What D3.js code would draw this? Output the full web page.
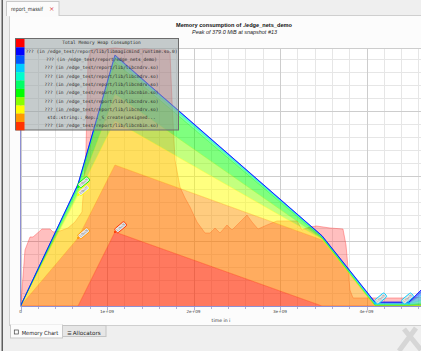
<!DOCTYPE html>
<html><head><meta charset="utf-8">
<script src="https://cdn.jsdelivr.net/npm/d3@7"></script>
<style>
html,body{margin:0;padding:0;background:#efefef;overflow:hidden}
svg{display:block}
</style></head><body>
<svg id="c" width="421" height="351"></svg>
<script>
// ---------- data ----------
const chartTitle = "Memory consumption of ./edge_nets_demo";
const chartSubtitle = "Peak of 379.0 MiB at snapshot #13";
const xAxisTitle = "time in i";
const xTickValues = [0, 1, 2, 3, 4];            // in 1e9 instructions
const xTickLabels = ["0", "1e+09", "2e+09", "3e+09", "4e+09"];
const peakMiB = 379.0;
const MiB = 1048576;

// total heap consumption (MiB) at every snapshot, time in 1e9 instructions
const totalTimes = [0,0.017,0.052,0.110,0.145,0.249,0.341,0.376,0.457,0.549,0.630,0.711,0.757,0.780,0.815,0.884,0.977,1.092,1.208,1.324,1.439,1.555,1.671,1.728,1.751,1.786,1.844,1.902,1.960,2.040,2.133,2.191,2.249,2.306,2.387,2.445,2.538,2.618,2.676,2.746,2.850,2.965,3.197,3.254,3.347,3.422,3.578,3.728,3.763,3.809,3.844,4.156,4.503,4.850];
const totalMiB   = [0,23.5,82.3,101.4,101.4,113.1,113.1,108.7,110.2,114.6,123.4,138.1,229.2,361.4,376.1,377.6,377.6,379.0,377.6,376.1,377.6,376.1,376.1,373.2,302.6,214.5,174.8,158.7,145.4,123.4,107.2,107.2,114.6,107.2,119.0,111.6,123.4,133.7,123.4,113.1,119.0,124.9,124.9,111.6,116.1,117.5,114.6,113.1,89.6,23.5,11.8,11.8,11.8,14.7];

// detailed snapshots
const detailTimes = [0, 0.665, 1.092, 3.486, 4.098, 4.491, 4.850];
const totalName = "Total Memory Heap Consumption";
const totalColor = "#ff0000";
const seriesNames = [
  "??? (in /edge_test/report/lib/libmagicmind_runtime.so.0)",
  "??? (in /edge_test/report/edge_nets_demo)",
  "??? (in /edge_test/report/lib/libcndrv.so)",
  "??? (in /edge_test/report/lib/libcndrv.so)",
  "??? (in /edge_test/report/lib/libcndrv.so)",
  "??? (in /edge_test/report/lib/libcnbin.so)",
  "??? (in /edge_test/report/lib/libcndrv.so)",
  "??? (in /edge_test/report/lib/libcndrv.so)",
  "std::string::_Rep::_S_create(unsigned...",
  "??? (in /edge_test/report/lib/libcnbin.so)"
];
const seriesColors = ["#0000ff","#0055ff","#00ccff","#00ffcc","#00ff66","#00ff00","#88ff00","#ffff00","#ff9900","#ff3300"];
// MiB per series at each detailed snapshot (legend order: top of stack first)
const s0 = [0,0.7,0.7,0.4,0.9,0.9,5.9];
const s1 = [0,0.7,0.7,0.4,0.9,0.9,11.8];
const s2 = [0,0.7,1.5,0.6,1.0,1.0,17.6];
const s3 = [0,0.7,1.5,0.6,0.9,0.9,8.8];
const s4 = [0,1.5,5.9,0.7,0.7,0.7,2.9];
const s5 = [0,7.3,47.0,1.5,1.0,1.0,2.9];
const s6 = [0,4.4,39.7,1.0,0.4,0.4,1.5];
const s7 = [0,63.2,64.6,1.0,0,0,0];
const s8 = [0,99.9,98.4,97.0,0,0,0];
const s9 = [0,0,108.7,0,0,0,0];
const seriesMiB = [s0,s1,s2,s3,s4,s5,s6,s7,s8,s9];
// peak labels: series index, detailed snapshot index
const peakLabels = [{s:5,k:1},{s:7,k:1},{s:8,k:1},{s:9,k:2},{s:2,k:4},{s:2,k:5}];

// ---------- drawing ----------
const svg = d3.select("#c");
const W = 421, H = 351;
const pLeft = 20.5, pRight = 421.5, pTop = 48, pBottom = 306;

// window chrome
svg.append("rect").attr("x",0).attr("y",0).attr("width",W).attr("height",H).attr("fill","#efefef");
svg.append("rect").attr("x",1.5).attr("y",0).attr("width",1.5).attr("height",H).attr("fill","#5e5e5e");
svg.append("rect").attr("x",9.5).attr("y",15.5).attr("width",420).attr("height",310).attr("fill","#fcfcfc").attr("stroke","#cfcfcf");
svg.append("rect").attr("x",6.5).attr("y",1.5).attr("width",52.5).attr("height",14).attr("fill","#fbfbfb").attr("stroke","#c9c9c9");
svg.append("rect").attr("x",7).attr("y",15).attr("width",51.5).attr("height",1.2).attr("fill","#fbfbfb");
svg.append("text").attr("x",11).attr("y",11).attr("font-family","DejaVu Sans").attr("font-size",5.6).attr("fill","#333")
  .attr("textLength",32).attr("lengthAdjust","spacingAndGlyphs").text("report_massif");
svg.append("text").attr("x",49).attr("y",11).attr("font-family","DejaVu Sans").attr("font-size",6.5).attr("fill","#e04040").text("×");

// bottom tabs
svg.append("rect").attr("x",62.5).attr("y",325.5).attr("width",43.5).attr("height",11).attr("fill","#e6e6e6").attr("stroke","#c4c4c4");
svg.append("rect").attr("x",10.5).attr("y",325).attr("width",52).attr("height",13).attr("fill","#fcfcfc").attr("stroke","#c9c9c9");
svg.append("rect").attr("x",11).attr("y",324.5).attr("width",51).attr("height",1.5).attr("fill","#fcfcfc");
svg.append("rect").attr("x",14.3).attr("y",330).attr("width",4).attr("height",4).attr("fill","none").attr("stroke","#444").attr("stroke-width",0.7);
svg.append("text").attr("x",21.7).attr("y",334.5).attr("font-family","DejaVu Sans").attr("font-size",5.6).attr("fill","#222")
  .attr("textLength",36.5).attr("lengthAdjust","spacingAndGlyphs").text("Memory Chart");
svg.append("text").attr("x",67.3).attr("y",334.5).attr("font-family","DejaVu Sans").attr("font-size",5).attr("fill","#333").text("☰");
svg.append("text").attr("x",72.7).attr("y",334.5).attr("font-family","DejaVu Sans").attr("font-size",5.6).attr("fill","#222")
  .attr("textLength",28).attr("lengthAdjust","spacingAndGlyphs").text("Allocators");
svg.append("path").attr("d","M399,351 L416,328 M404,329 L421,350").attr("stroke","#d6d6d6").attr("stroke-width",5).attr("fill","none");

// titles
svg.append("text").attr("x",234).attr("y",26.5).attr("text-anchor","middle").attr("font-family","Liberation Sans").attr("font-weight","bold").attr("font-size",6).attr("fill","#111").attr("textLength",116).attr("lengthAdjust","spacingAndGlyphs").text(chartTitle);
svg.append("text").attr("x",234.5).attr("y",34).attr("text-anchor","middle").attr("font-family","Liberation Sans").attr("font-style","italic").attr("font-size",5.5).attr("fill","#222").attr("textLength",85).attr("lengthAdjust","spacingAndGlyphs").text(chartSubtitle);

// scales
const x = d3.scaleLinear().domain([0, (pRight-pLeft)/86.5]).range([pLeft, pRight]);
const y = d3.scaleLinear().domain([0, peakMiB]).range([pBottom, pTop]);
const yBytes = d3.scaleLinear().domain([0, peakMiB*MiB]).range([pBottom, pTop]);

// plot background
svg.append("rect").attr("x",pLeft).attr("y",pTop).attr("width",pRight-pLeft).attr("height",pBottom-pTop).attr("fill","#ffffff");

const g = svg.append("g");
// grid
g.selectAll(".vmin").data(x.ticks(25)).enter().append("line")
  .attr("x1",d=>Math.round(x(d))+0.5).attr("x2",d=>Math.round(x(d))+0.5).attr("y1",pTop).attr("y2",pBottom)
  .attr("stroke","#e6e6e6").attr("stroke-width",1);
g.selectAll(".hmin").data(yBytes.ticks(20)).enter().append("line")
  .attr("x1",pLeft).attr("x2",pRight).attr("y1",d=>Math.round(yBytes(d))+0.5).attr("y2",d=>Math.round(yBytes(d))+0.5)
  .attr("stroke","#e6e6e6").attr("stroke-width",1);
g.selectAll(".vmaj").data(xTickValues).enter().append("line")
  .attr("x1",d=>Math.round(x(d))+0.5).attr("x2",d=>Math.round(x(d))+0.5).attr("y1",pTop).attr("y2",pBottom)
  .attr("stroke","#cdcdcd").attr("stroke-width",1);
g.selectAll(".hmaj").data(yBytes.ticks(4).concat([peakMiB*MiB])).enter().append("line")
  .attr("x1",pLeft).attr("x2",pRight).attr("y1",d=>Math.round(yBytes(d))+0.5).attr("y2",d=>Math.round(yBytes(d))+0.5)
  .attr("stroke","#cdcdcd").attr("stroke-width",1);

// clip
svg.append("clipPath").attr("id","clip").append("rect").attr("x",pLeft).attr("y",pTop-6).attr("width",pRight-pLeft).attr("height",pBottom-pTop+6);
const plot = svg.append("g").attr("clip-path","url(#clip)");

// total area
const totalData = totalTimes.map((t,i)=>({t, v: totalMiB[i]}));
plot.append("path").datum(totalData)
  .attr("d", d3.area().x(d=>x(d.t)).y0(y(0)).y1(d=>y(d.v)))
  .attr("fill","rgba(255,0,0,0.25)");
plot.append("path").datum(totalData)
  .attr("d", d3.line().x(d=>x(d.t)).y(d=>y(d.v)))
  .attr("fill","none").attr("stroke","rgba(255,60,60,0.45)").attr("stroke-width",0.9);

// stacked
const rows = detailTimes.map((t,k)=>{ const r = {t}; seriesMiB.forEach((s,i)=> r["s"+i] = s[k]); return r; });
const keys = seriesMiB.map((s,i)=>"s"+i).reverse(); // bottom of stack first
const stacked = d3.stack().keys(keys)(rows);
stacked.forEach(layer=>{
  const i = +layer.key.slice(1);
  plot.append("path").datum(layer)
    .attr("d", d3.area().x(d=>x(d.data.t)).y0(d=>y(d[0])).y1(d=>y(d[1])))
    .attr("fill", seriesColors[i]).attr("fill-opacity",0.5);
});
stacked.forEach(layer=>{
  const i = +layer.key.slice(1);
  plot.append("path").datum(layer)
    .attr("d", d3.line().x(d=>x(d.data.t)).y(d=>y(d[1])))
    .attr("fill","none").attr("stroke", seriesColors[i]).attr("stroke-opacity", i<2?0.85:0.6).attr("stroke-width", i<1?0.9:0.6);
});

// axes
svg.append("line").attr("x1",pLeft).attr("x2",pLeft).attr("y1",pTop).attr("y2",pBottom).attr("stroke","#8f8fd2").attr("stroke-width",1);
svg.append("line").attr("x1",pLeft).attr("x2",pRight).attr("y1",pBottom+0.5).attr("y2",pBottom+0.5).attr("stroke","#8f8fd2").attr("stroke-width",1);
svg.selectAll(".xt").data(x.ticks(25)).enter().append("line")
  .attr("x1",d=>Math.round(x(d))+0.5).attr("x2",d=>Math.round(x(d))+0.5).attr("y1",pBottom+1).attr("y2",d=>pBottom+(Math.abs(d-Math.round(d))<1e-9?4.5:3))
  .attr("stroke","#9a9ac8").attr("stroke-width",0.8);
svg.selectAll(".xl").data(xTickValues).enter().append("text")
  .attr("x",d=>x(d)).attr("y",pBottom+6.5).attr("text-anchor","middle")
  .attr("font-family","DejaVu Sans").attr("font-size",4.2).attr("fill","#444")
  .text((d,i)=>xTickLabels[i]);
svg.append("text").attr("x",221).attr("y",321.5).attr("text-anchor","middle").attr("font-family","DejaVu Sans").attr("font-size",4.6).attr("fill","#333").text(xAxisTitle);

// peak labels
const cum = {};
stacked.forEach(layer=>{ cum[layer.key] = layer; });
const fmt = v => v.toExponential(2).replace(/e([+-])(\d)$/, "e$10$2");
peakLabels.forEach(p=>{
  const pt = cum["s"+p.s][p.k];
  const px = x(pt.data.t), py = y(pt[1]);
  const len = 12.5;
  const gx = Math.min(px, W - 3 - (len+1.2)*0.766 - 2.6*0.643 - 4);
  const lg = svg.append("g").attr("transform",`translate(${gx},${py}) rotate(-40)`);
  lg.append("rect").attr("x",1.2).attr("y",-2.6).attr("width",len).attr("height",5.2).attr("rx",1.5)
    .attr("fill","#e9e9e9").attr("stroke",seriesColors[p.s]).attr("stroke-width",0.9);
  lg.append("text").attr("x",1.2+len/2).attr("y",1.2).attr("text-anchor","middle").attr("font-family","DejaVu Sans").attr("font-size",3.2).attr("fill","#555")
    .attr("textLength",len-2.5).attr("lengthAdjust","spacingAndGlyphs")
    .text(fmt(seriesMiB[p.s][p.k]*MiB));
  svg.append("circle").attr("cx",px).attr("cy",py).attr("r",1.1).attr("fill",seriesColors[p.s]);
});

// legend
const legNames = [totalName].concat(seriesNames);
const legColors = [totalColor].concat(seriesColors);
const lx = 15.5, ly = 38.5, rowH = 8.3;
svg.append("rect").attr("x",lx).attr("y",ly).attr("width",163).attr("height",rowH*legNames.length+0.2)
  .attr("fill","rgba(150,160,162,0.55)").attr("stroke","#6c6c6c").attr("stroke-width",1);
legNames.forEach((n,i)=>{
  svg.append("rect").attr("x",lx+0.5).attr("y",ly+0.5+i*rowH).attr("width",8.5).attr("height",rowH).attr("fill",legColors[i]);
  svg.append("text").attr("x",101.5).attr("y",ly+i*rowH+5.9).attr("text-anchor","middle")
    .attr("font-family","DejaVu Sans Mono").attr("font-size",4.5).attr("fill","#2a2a2a").text(n);
});
</script>
</body></html>
